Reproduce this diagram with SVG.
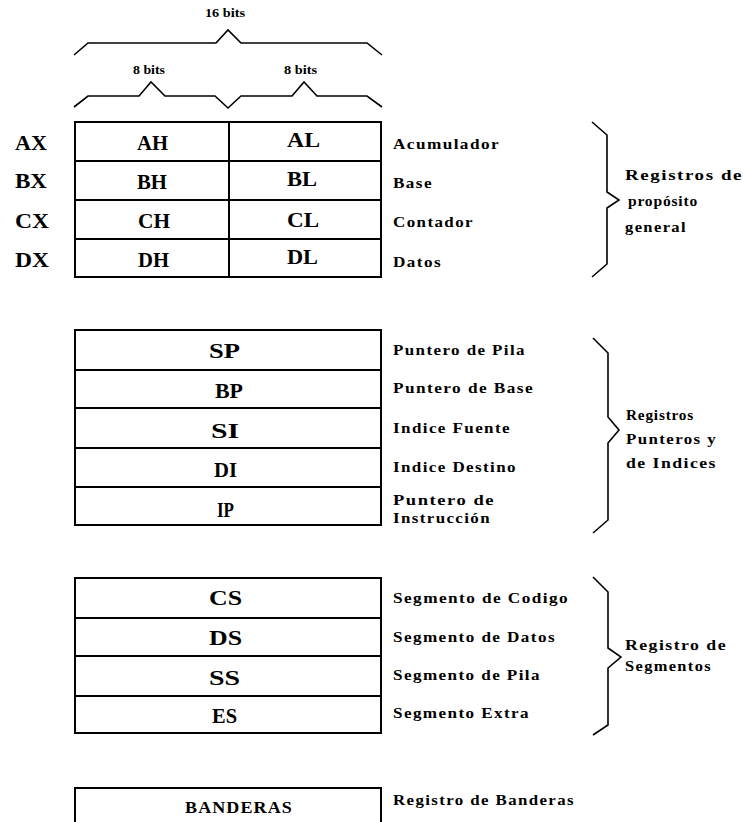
<svg xmlns="http://www.w3.org/2000/svg" width="743" height="822" viewBox="0 0 743 822">
<style>
.box{fill:#fff;stroke:#000;stroke-width:2}
.sep{stroke:#000;stroke-width:2}
.br{fill:none;stroke:#000;stroke-width:1.6;stroke-linejoin:miter}
.big{font-family:"Liberation Serif","Times New Roman",serif;font-weight:bold;font-size:20px;fill:#000}
.lab{font-family:"Liberation Serif","Times New Roman",serif;font-weight:bold;font-size:14.5px;letter-spacing:1.2px;fill:#000}
.labw{font-family:"Liberation Serif","Times New Roman",serif;font-weight:bold;font-size:15.5px;letter-spacing:0.8px;fill:#000}
.bits{font-family:"Liberation Serif","Times New Roman",serif;font-weight:bold;font-size:12px;fill:#000}
</style>
<rect width="743" height="822" fill="#fff"/>

<g id="connectors">
  <path class="br" d="M74,55 L88,43 L216,43 L228,30 L241,43 L367,43 L382,55"/>
  <path class="br" d="M74,107 L88,96 L139,96 L151,82 L165,96 L215,96 L228,108 L241,96 L292,96 L304,82 L317,96 L367,96 L382,107"/>
  <path class="br" d="M592,122 L607,135 L607,192 L619,200 L607,208 L607,264 L592,277"/>
  <path class="br" d="M593,338 L608,353 L608,417 L619,430 L608,443 L608,520 L593,533"/>
  <path class="br" d="M593,577 L608,592 L608,648 L621,657 L608,668 L608,725 L593,735"/>
</g>

<g id="bits">
  <text class="bits" x="205" y="17" textLength="40" lengthAdjust="spacingAndGlyphs">16 bits</text>
  <text class="bits" x="133" y="74" textLength="32" lengthAdjust="spacingAndGlyphs">8 bits</text>
  <text class="bits" x="284" y="74" textLength="33" lengthAdjust="spacingAndGlyphs">8 bits</text>
</g>

<g id="general">
  <rect class="box" x="75" y="122" width="306" height="155"/>
  <line class="sep" x1="75" y1="161" x2="381" y2="161"/>
  <line class="sep" x1="75" y1="200" x2="381" y2="200"/>
  <line class="sep" x1="75" y1="239" x2="381" y2="239"/>
  <line class="sep" x1="229" y1="122" x2="229" y2="277"/>
  <g id="AX">
    <text class="big" x="15" y="150" textLength="32" lengthAdjust="spacingAndGlyphs">AX</text>
    <text class="big" x="137" y="150" textLength="31" lengthAdjust="spacingAndGlyphs">AH</text>
    <text class="big" x="287" y="147" textLength="33" lengthAdjust="spacingAndGlyphs">AL</text>
    <text class="lab" x="393" y="149" textLength="107" lengthAdjust="spacingAndGlyphs">Acumulador</text>
  </g>
  <g id="BX">
    <text class="big" x="15" y="188" textLength="32" lengthAdjust="spacingAndGlyphs">BX</text>
    <text class="big" x="137" y="189" textLength="30" lengthAdjust="spacingAndGlyphs">BH</text>
    <text class="big" x="287" y="186" textLength="30" lengthAdjust="spacingAndGlyphs">BL</text>
    <text class="lab" x="393" y="188" textLength="40" lengthAdjust="spacingAndGlyphs">Base</text>
  </g>
  <g id="CX">
    <text class="big" x="15" y="228" textLength="34" lengthAdjust="spacingAndGlyphs">CX</text>
    <text class="big" x="138" y="228" textLength="32" lengthAdjust="spacingAndGlyphs">CH</text>
    <text class="big" x="287" y="227" textLength="32" lengthAdjust="spacingAndGlyphs">CL</text>
    <text class="lab" x="393" y="227" textLength="81" lengthAdjust="spacingAndGlyphs">Contador</text>
  </g>
  <g id="DX">
    <text class="big" x="15" y="267" textLength="34" lengthAdjust="spacingAndGlyphs">DX</text>
    <text class="big" x="138" y="267" textLength="31" lengthAdjust="spacingAndGlyphs">DH</text>
    <text class="big" x="287" y="264" textLength="31" lengthAdjust="spacingAndGlyphs">DL</text>
    <text class="lab" x="393" y="267" textLength="49" lengthAdjust="spacingAndGlyphs">Datos</text>
  </g>
  <g id="label-general">
    <text class="lab" x="625" y="180" textLength="118" lengthAdjust="spacingAndGlyphs">Registros de</text>
    <text class="labw" x="628" y="206" textLength="70" lengthAdjust="spacingAndGlyphs">propósito</text>
    <text class="lab" x="625" y="232" textLength="62" lengthAdjust="spacingAndGlyphs">general</text>
  </g>
</g>

<g id="punteros">
  <rect class="box" x="75" y="330" width="306" height="195"/>
  <line class="sep" x1="75" y1="370" x2="381" y2="370"/>
  <line class="sep" x1="75" y1="408" x2="381" y2="408"/>
  <line class="sep" x1="75" y1="448" x2="381" y2="448"/>
  <line class="sep" x1="75" y1="487" x2="381" y2="487"/>
  <g id="SP">
    <text class="big" x="209" y="358" textLength="31" lengthAdjust="spacingAndGlyphs">SP</text>
    <text class="lab" x="393" y="355" textLength="133" lengthAdjust="spacingAndGlyphs">Puntero de Pila</text>
  </g>
  <g id="BP">
    <text class="big" x="215" y="398" textLength="28" lengthAdjust="spacingAndGlyphs">BP</text>
    <text class="lab" x="393" y="393" textLength="141" lengthAdjust="spacingAndGlyphs">Puntero de Base</text>
  </g>
  <g id="SI">
    <text class="big" x="211" y="438" textLength="28" lengthAdjust="spacingAndGlyphs">SI</text>
    <text class="lab" x="393" y="433" textLength="118" lengthAdjust="spacingAndGlyphs">Indice Fuente</text>
  </g>
  <g id="DI">
    <text class="big" x="214" y="477" textLength="23" lengthAdjust="spacingAndGlyphs">DI</text>
    <text class="lab" x="393" y="472" textLength="124" lengthAdjust="spacingAndGlyphs">Indice Destino</text>
  </g>
  <g id="IP">
    <text class="big" x="217" y="517" textLength="17" lengthAdjust="spacingAndGlyphs">IP</text>
    <text class="lab" x="393" y="505" textLength="102" lengthAdjust="spacingAndGlyphs">Puntero de</text>
    <text class="lab" x="393" y="523" textLength="98" lengthAdjust="spacingAndGlyphs">Instrucción</text>
  </g>
  <g id="label-punteros">
    <text class="labw" x="626" y="420" textLength="68" lengthAdjust="spacingAndGlyphs">Registros</text>
    <text class="lab" x="626" y="444" textLength="91" lengthAdjust="spacingAndGlyphs">Punteros y</text>
    <text class="lab" x="626" y="468" textLength="91" lengthAdjust="spacingAndGlyphs">de Indices</text>
  </g>
</g>

<g id="segmentos">
  <rect class="box" x="75" y="578" width="306" height="155"/>
  <line class="sep" x1="75" y1="618" x2="381" y2="618"/>
  <line class="sep" x1="75" y1="656" x2="381" y2="656"/>
  <line class="sep" x1="75" y1="696" x2="381" y2="696"/>
  <g id="CS">
    <text class="big" x="209" y="605" textLength="33" lengthAdjust="spacingAndGlyphs">CS</text>
    <text class="lab" x="393" y="603" textLength="176" lengthAdjust="spacingAndGlyphs">Segmento de Codigo</text>
  </g>
  <g id="DS">
    <text class="big" x="209" y="645" textLength="33" lengthAdjust="spacingAndGlyphs">DS</text>
    <text class="lab" x="393" y="642" textLength="163" lengthAdjust="spacingAndGlyphs">Segmento de Datos</text>
  </g>
  <g id="SS">
    <text class="big" x="209" y="685" textLength="31" lengthAdjust="spacingAndGlyphs">SS</text>
    <text class="lab" x="393" y="680" textLength="148" lengthAdjust="spacingAndGlyphs">Segmento de Pila</text>
  </g>
  <g id="ES">
    <text class="big" x="212" y="723" textLength="25" lengthAdjust="spacingAndGlyphs">ES</text>
    <text class="lab" x="393" y="718" textLength="137" lengthAdjust="spacingAndGlyphs">Segmento Extra</text>
  </g>
  <g id="label-segmentos">
    <text class="lab" x="625" y="650" textLength="102" lengthAdjust="spacingAndGlyphs">Registro de</text>
    <text class="lab" x="625" y="671" textLength="87" lengthAdjust="spacingAndGlyphs">Segmentos</text>
  </g>
</g>

<g id="banderas">
  <rect class="box" x="75" y="788" width="306" height="60"/>
  <text class="lab" x="185" y="813" style="font-size:16px;letter-spacing:1px" textLength="108" lengthAdjust="spacingAndGlyphs">BANDERAS</text>
  <text class="lab" x="393" y="805" textLength="182" lengthAdjust="spacingAndGlyphs">Registro de Banderas</text>
</g>
</svg>
